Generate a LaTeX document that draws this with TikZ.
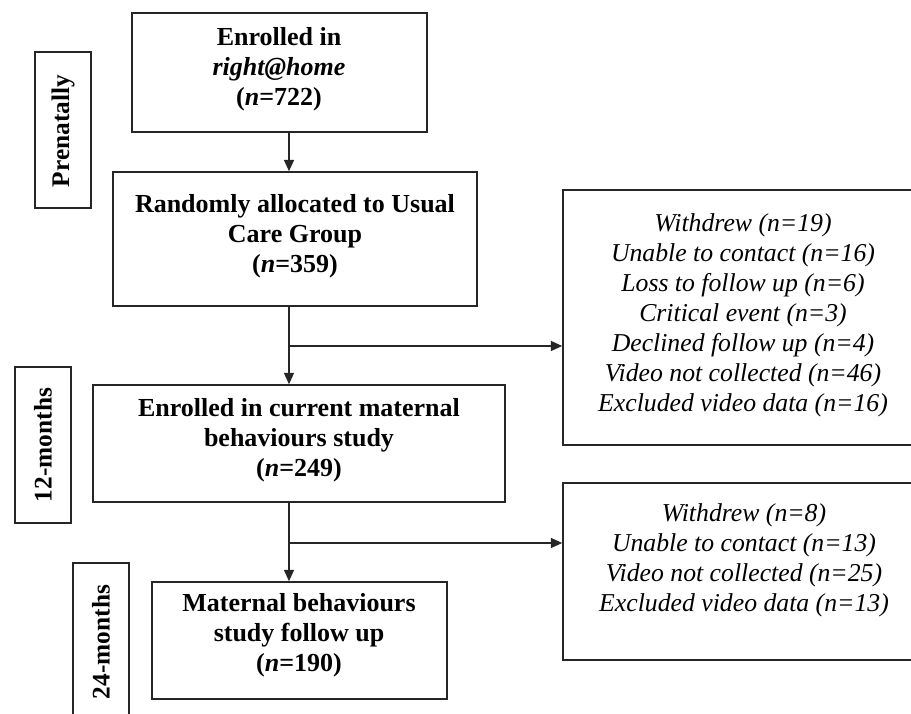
\documentclass[tikz,border=0pt]{standalone}
\usepackage{fontspec}
\setmainfont{Liberation Serif}
\usetikzlibrary{fit,arrows.meta}
\begin{document}
\begin{tikzpicture}[x=0.75pt,y=-0.75pt,
  box/.style={draw=black!85,line width=1.2pt,inner sep=0pt,fill=none},
  main/.style={anchor=north,align=center,inner sep=0pt,font=\fontsize{19.5pt}{22.5pt}\selectfont\bfseries},
  side/.style={anchor=north,align=center,inner sep=0pt,font=\fontsize{19.3pt}{22.5pt}\selectfont\itshape},
  lab/.style={rotate=90,inner sep=0pt,font=\fontsize{19pt}{22.5pt}\selectfont\bfseries},
  arr/.style={draw=black!85,line width=1.1pt,-{Triangle[length=8.5pt,width=7.5pt]}},
  ln/.style={draw=black!85,line width=1.1pt}]
\useasboundingbox (0,0) rectangle (911,714);
\clip (0,0) rectangle (911,714);
% boxes
\node[box,fit={(132,13) (427,132)}] (box1) {};
\node[box,fit={(113,172) (477,306)}] (box2) {};
\node[box,fit={(93,385) (505,502)}] (box3) {};
\node[box,fit={(152,582) (447,699)}] (box4) {};
\node[box,fit={(563,190) (930,445)}] (rb1) {};
\node[box,fit={(563,483) (930,660)}] (rb2) {};
\node[box,fit={(35,52) (91,208)}] (lab1) {};
\node[box,fit={(15,367) (71,523)}] (lab2) {};
\node[box,fit={(73,563) (129,740)}] (lab3) {};
% texts
\node[main] (t1) at (279,27) {Enrolled in\\\textit{right@home}\\(\textit{n}=722)};
\node[main] (t2) at (295,194) {Randomly allocated to Usual\\Care Group\\(\textit{n}=359)};
\node[main] (t3) at (299,398) {Enrolled in current maternal\\behaviours study\\(\textit{n}=249)};
\node[main] (t4) at (299,593) {Maternal behaviours\\study follow up\\(\textit{n}=190)};
\node[side] (s1) at (743,213) {Withdrew (n=19)\\Unable to contact (n=16)\\Loss to follow up (n=6)\\Critical event (n=3)\\Declined follow up (n=4)\\Video not collected (n=46)\\Excluded video data (n=16)};
\node[side] (s2) at (744,503) {Withdrew (n=8)\\Unable to contact (n=13)\\Video not collected (n=25)\\Excluded video data (n=13)};
\node[lab] (l1) at (63,131) {Prenatally};
\node[lab] (l2) at (43,445) {12-months};
\node[lab] (l3) at (101,642) {24-months};
% connectors
\coordinate (spine) at (289,0);
\coordinate (j1) at (289,346);
\coordinate (j2) at (289,543);
\draw[arr] (spine |- box1.south) -- (spine |- box2.north);
\draw[arr] (spine |- box2.south) -- (spine |- box3.north);
\draw[arr] (spine |- box3.south) -- (spine |- box4.north);
\draw[arr] (j1) -- (j1 -| rb1.west);
\draw[arr] (j2) -- (j2 -| rb2.west);
\end{tikzpicture}
\end{document}
